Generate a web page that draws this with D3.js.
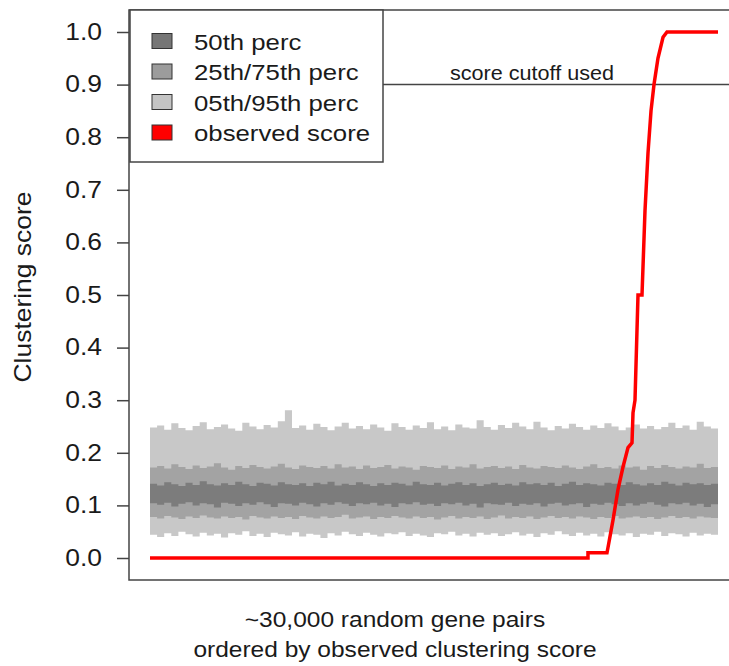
<!DOCTYPE html>
<html>
<head>
<meta charset="utf-8">
<script src="https://cdn.jsdelivr.net/npm/d3@7"></script>
<style>
  html, body { margin: 0; padding: 0; background: #fff; }
  text { font-family: "Liberation Sans", Arial, sans-serif; fill: #1a1a1a; }
</style>
</head>
<body>
<div id="chart"></div>
<script>
// percentile bands, one value per column of ~375 gene pairs
var p95hi = [0.248,0.252,0.244,0.256,0.247,0.243,0.251,0.258,0.245,0.249,
  0.254,0.246,0.242,0.257,0.250,0.245,0.253,0.248,0.260,0.281,
  0.247,0.252,0.244,0.255,0.249,0.243,0.250,0.257,0.246,0.251,
  0.245,0.254,0.248,0.242,0.256,0.249,0.244,0.252,0.247,0.258,
  0.245,0.250,0.243,0.254,0.248,0.246,0.262,0.249,0.244,0.253,
  0.247,0.257,0.250,0.245,0.259,0.248,0.243,0.251,0.246,0.255,
  0.249,0.244,0.252,0.247,0.256,0.250,0.243,0.248,0.254,0.246,
  0.251,0.245,0.249,0.257,0.247,0.252,0.244,0.259,0.250,0.246]
var p05lo = [0.044,0.040,0.047,0.042,0.050,0.045,0.041,0.048,0.043,0.046,
  0.039,0.047,0.044,0.051,0.042,0.046,0.040,0.048,0.045,0.043,
  0.049,0.041,0.046,0.044,0.038,0.047,0.043,0.050,0.045,0.042,
  0.048,0.044,0.041,0.047,0.045,0.049,0.042,0.046,0.043,0.040,
  0.047,0.045,0.050,0.043,0.046,0.041,0.048,0.044,0.047,0.042,
  0.045,0.049,0.043,0.046,0.040,0.047,0.044,0.051,0.045,0.042,
  0.048,0.043,0.046,0.041,0.049,0.045,0.043,0.047,0.040,0.046,
  0.044,0.050,0.042,0.047,0.045,0.041,0.048,0.043,0.046,0.044]
var p75hi = [0.172,0.175,0.170,0.178,0.173,0.169,0.176,0.171,0.174,0.180,
  0.172,0.168,0.175,0.171,0.177,0.173,0.170,0.174,0.179,0.172,
  0.169,0.176,0.173,0.171,0.175,0.170,0.178,0.172,0.174,0.169,
  0.176,0.171,0.173,0.177,0.170,0.174,0.172,0.168,0.175,0.173,
  0.171,0.176,0.169,0.174,0.172,0.178,0.170,0.173,0.175,0.171,
  0.174,0.169,0.177,0.172,0.170,0.175,0.173,0.171,0.176,0.172,
  0.169,0.174,0.178,0.171,0.173,0.170,0.176,0.172,0.174,0.168,
  0.175,0.171,0.177,0.173,0.170,0.174,0.172,0.179,0.171,0.173]
var p25lo = [0.078,0.075,0.080,0.077,0.074,0.079,0.076,0.081,0.077,0.075,
  0.079,0.076,0.078,0.073,0.080,0.077,0.075,0.079,0.076,0.078,
  0.074,0.080,0.077,0.075,0.079,0.076,0.078,0.082,0.075,0.077,
  0.079,0.074,0.078,0.076,0.080,0.077,0.075,0.079,0.076,0.078,
  0.073,0.077,0.080,0.075,0.078,0.076,0.079,0.074,0.077,0.081,
  0.075,0.078,0.076,0.079,0.074,0.077,0.080,0.076,0.078,0.075,
  0.079,0.077,0.074,0.078,0.076,0.080,0.075,0.077,0.079,0.076,
  0.078,0.074,0.077,0.080,0.076,0.078,0.075,0.079,0.077,0.076]
var p50hi = [0.141,0.138,0.144,0.140,0.137,0.143,0.139,0.146,0.140,0.138,
  0.142,0.139,0.145,0.140,0.137,0.143,0.141,0.138,0.144,0.140,
  0.139,0.142,0.137,0.143,0.140,0.145,0.138,0.141,0.139,0.144,
  0.140,0.137,0.142,0.139,0.143,0.141,0.138,0.145,0.140,0.139,
  0.143,0.138,0.141,0.144,0.139,0.142,0.137,0.140,0.143,0.139,
  0.141,0.138,0.144,0.140,0.142,0.139,0.143,0.137,0.141,0.145,
  0.139,0.142,0.140,0.138,0.143,0.141,0.139,0.144,0.140,0.138,
  0.142,0.139,0.145,0.141,0.138,0.143,0.140,0.142,0.139,0.141]
var p50lo = [0.104,0.101,0.105,0.098,0.103,0.106,0.100,0.104,0.102,0.096,
  0.105,0.103,0.099,0.104,0.101,0.106,0.102,0.097,0.104,0.103,
  0.100,0.105,0.102,0.098,0.104,0.101,0.106,0.103,0.099,0.104,
  0.102,0.105,0.100,0.103,0.097,0.104,0.102,0.106,0.101,0.103,
  0.099,0.104,0.102,0.105,0.100,0.103,0.096,0.104,0.102,0.101,
  0.105,0.099,0.103,0.101,0.104,0.098,0.103,0.105,0.100,0.102,
  0.104,0.097,0.103,0.101,0.105,0.102,0.099,0.104,0.100,0.103,
  0.106,0.101,0.098,0.104,0.102,0.105,0.100,0.103,0.097,0.102]

// observed clustering score along the ranked gene pairs
var obsRank  = [1, 23133, 23133, 24137, 24190, 24454, 24718, 24982, 25247, 25458, 25511, 25616, 25775, 25986, 26144, 26303, 26462, 26620, 26829, 27096, 27306, 30000]
var obsScore = [0, 0, 0.01, 0.01, 0.02, 0.072, 0.13, 0.173, 0.21, 0.219, 0.276, 0.30, 0.50, 0.50, 0.66, 0.77, 0.85, 0.90, 0.95, 0.99, 1.0, 1.0]

var nPairs = 30000
var cutoff = 0.9
var yTicks = [0, 0.1, 0.2, 0.3, 0.4, 0.5, 0.6, 0.7, 0.8, 0.9, 1.0]
var legendLabels = ["50th perc", "25th/75th perc", "05th/95th perc", "observed score"]
var legendColors = ["#767676", "#9c9c9c", "#c4c4c4", "#ff0000"]

var width = 729, height = 666
var box = { left: 129, top: 10, right: 741, bottom: 580 }

var svg = d3.select("#chart").append("svg")
  .attr("width", width)
  .attr("height", height)

var x = d3.scaleLinear().domain([1, nPairs]).range([150, 718])
var y = d3.scaleLinear().domain([0, 1]).range([558, 32])

// columns for the bands
var colW = (nPairs - 1) / p95hi.length
var cols = p95hi.map(function(d, i) {
  return { r: 1 + i * colW, i: i }
})
cols.push({ r: nPairs, i: p95hi.length - 1 })

function band(lo, hi) {
  return d3.area()
    .curve(d3.curveStepAfter)
    .x(function(d) { return x(d.r) })
    .y0(function(d) { return y(lo[d.i]) })
    .y1(function(d) { return y(hi[d.i]) })
}

svg.append("path").datum(cols).attr("d", band(p05lo, p95hi)).attr("fill", "#c8c8c8")
svg.append("path").datum(cols).attr("d", band(p25lo, p75hi)).attr("fill", "#a3a3a3")
svg.append("path").datum(cols).attr("d", band(p50lo, p50hi)).attr("fill", "#7c7c7c")

// cutoff line
svg.append("line")
  .attr("x1", box.left).attr("x2", box.right)
  .attr("y1", y(cutoff)).attr("y2", y(cutoff))
  .attr("stroke", "#444").attr("stroke-width", 1.5)

svg.append("text")
  .attr("transform", "translate(532," + (y(cutoff) - 5) + ") scale(1.08,1)")
  .attr("text-anchor", "middle")
  .attr("font-size", 20)
  .text("score cutoff used")

// observed score
var obs = obsRank.map(function(r, i) { return [r, obsScore[i]] })
svg.append("path").datum(obs)
  .attr("d", d3.line().x(function(d) { return x(d[0]) }).y(function(d) { return y(d[1]) }))
  .attr("fill", "none")
  .attr("stroke", "#f00")
  .attr("stroke-width", 3.5)

// plot frame
svg.append("rect")
  .attr("x", box.left).attr("y", box.top)
  .attr("width", box.right - box.left).attr("height", box.bottom - box.top)
  .attr("fill", "none").attr("stroke", "#444").attr("stroke-width", 1.5)

// y axis
var yAxis = svg.append("g")
  .attr("transform", "translate(" + box.left + ",0)")
  .call(d3.axisLeft(y).tickValues(yTicks).tickSize(12).tickSizeOuter(0)
    .tickPadding(11.5).tickFormat(d3.format(".1f")))
yAxis.select(".domain").remove()
yAxis.selectAll(".tick line").attr("stroke", "#444").attr("stroke-width", 1.5)
yAxis.selectAll(".tick text")
  .attr("font-size", 23)
  .attr("font-family", "Liberation Sans, Arial, sans-serif")
  .attr("fill", "#1a1a1a")
  .attr("transform", "scale(1.15,1)")

svg.append("text")
  .attr("transform", "translate(31,287) rotate(-90) scale(1.15,1)")
  .attr("text-anchor", "middle")
  .attr("font-size", 23)
  .text("Clustering score")

svg.append("text")
  .attr("transform", "translate(395,627) scale(1.09,1)")
  .attr("text-anchor", "middle")
  .attr("font-size", 22.5)
  .text("~30,000 random gene pairs")
svg.append("text")
  .attr("transform", "translate(395,657) scale(1.09,1)")
  .attr("text-anchor", "middle")
  .attr("font-size", 22.5)
  .text("ordered by observed clustering score")

// legend
var leg = svg.append("g")
leg.append("rect")
  .attr("x", 130).attr("y", box.top)
  .attr("width", 253).attr("height", 152)
  .attr("fill", "#fff").attr("stroke", "#444").attr("stroke-width", 1.5)
legendLabels.forEach(function(lab, i) {
  var cy = 41 + i * 30.5
  leg.append("rect")
    .attr("x", 152).attr("y", cy - 7.5)
    .attr("width", 20).attr("height", 15)
    .attr("fill", legendColors[i]).attr("stroke", "#333").attr("stroke-width", 1)
  leg.append("text")
    .attr("transform", "translate(194," + (cy + 8.5) + ") scale(1.12,1)")
    .attr("font-size", 23)
    .text(lab)
})
</script>
</body>
</html>
